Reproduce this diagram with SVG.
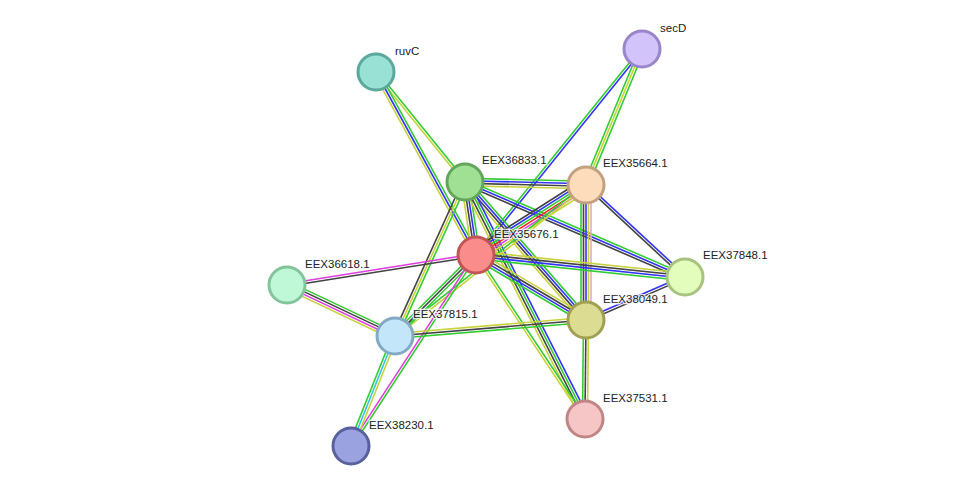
<svg xmlns="http://www.w3.org/2000/svg" width="976" height="492" viewBox="0 0 976 492">
<style>
line{stroke-width:1.6;fill:none}
.g{stroke:#33cc33}.b{stroke:#3333ff}.k{stroke:#444}.y{stroke:#c8d23c}.m{stroke:#e040e0}.r{stroke:#ff2020}.c{stroke:#33c6e0}.p{stroke:#e8a8b8}
circle{stroke-width:3}
text{font-family:"Liberation Sans",Arial,sans-serif;font-size:11.5px;fill:#222;paint-order:stroke;stroke:#fff;stroke-width:2.5px;stroke-opacity:0.8}
</style>
<rect width="976" height="492" fill="#fff"/>
<g id="edges">
<g transform="translate(376 72) rotate(51)"><line x2="141.5" y1="-1.25" y2="-1.25" class="g"/><line x2="141.5" y1="1.25" y2="1.25" class="y"/></g>
<g transform="translate(376 72) rotate(61.3)"><line x2="208.5" y1="-2.5" y2="-2.5" class="g"/><line x2="208.5" class="b"/><line x2="208.5" y1="2.5" y2="2.5" class="y"/></g>
<g transform="translate(642 49) rotate(128.9)"><line x2="264.6" y1="-1.25" y2="-1.25" class="b"/><line x2="264.6" y1="1.25" y2="1.25" class="g"/></g>
<g transform="translate(642 49) rotate(112.4)"><line x2="147" y1="-2.5" y2="-2.5" class="g"/><line x2="147" class="y"/><line x2="147" y1="2.5" y2="2.5" class="g"/></g>
<g transform="translate(465 182) rotate(1.4)"><line x2="121" y1="-3.75" y2="-3.75" class="g"/><line x2="121" y1="-1.25" y2="-1.25" class="b"/><line x2="121" y1="1.25" y2="1.25" class="k"/><line x2="121" y1="3.75" y2="3.75" class="y"/></g>
<g transform="translate(465 182) rotate(81.4)"><line x2="73.8" y1="-3.75" y2="-3.75" class="g"/><line x2="73.8" y1="-1.25" y2="-1.25" class="b"/><line x2="73.8" y1="1.25" y2="1.25" class="k"/><line x2="73.8" y1="3.75" y2="3.75" class="y"/></g>
<g transform="translate(465 182) rotate(23.4)"><line x2="239.6" y1="-2.5" y2="-2.5" class="g"/><line x2="239.6" class="b"/><line x2="239.6" y1="2.5" y2="2.5" class="k"/></g>
<g transform="translate(465 182) rotate(48.8)"><line x2="183.5" y1="-3.75" y2="-3.75" class="g"/><line x2="183.5" y1="-1.25" y2="-1.25" class="b"/><line x2="183.5" y1="1.25" y2="1.25" class="k"/><line x2="183.5" y1="3.75" y2="3.75" class="y"/></g>
<g transform="translate(465 182) rotate(63.1)"><line x2="265.6" y1="-3.75" y2="-3.75" class="b"/><line x2="265.6" y1="-1.25" y2="-1.25" class="g"/><line x2="265.6" y1="1.25" y2="1.25" class="k"/><line x2="265.6" y1="3.75" y2="3.75" class="y"/></g>
<g transform="translate(465 182) rotate(114.4)"><line x2="169.2" y1="-2.5" y2="-2.5" class="g"/><line x2="169.2" class="y"/><line x2="169.2" y1="2.5" y2="2.5" class="k"/></g>
<g transform="translate(586 185) rotate(147.5)"><line x2="130.4" y1="-6.25" y2="-6.25" class="y"/><line x2="130.4" y1="-3.75" y2="-3.75" class="m"/><line x2="130.4" y1="-1.25" y2="-1.25" class="r"/><line x2="130.4" y1="1.25" y2="1.25" class="g"/><line x2="130.4" y1="3.75" y2="3.75" class="b"/><line x2="130.4" y1="6.25" y2="6.25" class="k"/></g>
<g transform="translate(586 185) rotate(42.9)"><line x2="135.1" y1="-1.25" y2="-1.25" class="b"/><line x2="135.1" y1="1.25" y2="1.25" class="k"/></g>
<g transform="translate(586 185) rotate(90)"><line x2="135" y1="-5" y2="-5" class="p"/><line x2="135" y1="-2.5" y2="-2.5" class="y"/><line x2="135" class="b"/><line x2="135" y1="2.5" y2="2.5" class="k"/><line x2="135" y1="5" y2="5" class="g"/></g>
<g transform="translate(586 185) rotate(141.7)"><line x2="243.5" y1="-1.25" y2="-1.25" class="y"/><line x2="243.5" y1="1.25" y2="1.25" class="g"/></g>
<g transform="translate(476 255) rotate(6)"><line x2="210.2" y1="-3.75" y2="-3.75" class="y"/><line x2="210.2" y1="-1.25" y2="-1.25" class="k"/><line x2="210.2" y1="1.25" y2="1.25" class="b"/><line x2="210.2" y1="3.75" y2="3.75" class="g"/></g>
<g transform="translate(476 255) rotate(30.6)"><line x2="127.8" y1="-3.75" y2="-3.75" class="y"/><line x2="127.8" y1="-1.25" y2="-1.25" class="k"/><line x2="127.8" y1="1.25" y2="1.25" class="b"/><line x2="127.8" y1="3.75" y2="3.75" class="g"/></g>
<g transform="translate(476 255) rotate(56.4)"><line x2="196.9" y1="-1.25" y2="-1.25" class="g"/><line x2="196.9" y1="1.25" y2="1.25" class="y"/></g>
<g transform="translate(476 255) rotate(171)"><line x2="191.4" y1="-1.25" y2="-1.25" class="k"/><line x2="191.4" y1="1.25" y2="1.25" class="m"/></g>
<g transform="translate(476 255) rotate(135)"><line x2="114.6" y1="-2.5" y2="-2.5" class="g"/><line x2="114.6" class="k"/><line x2="114.6" y1="2.5" y2="2.5" class="g"/></g>
<g transform="translate(476 255) rotate(123.2)"><line x2="228.3" y1="-1.25" y2="-1.25" class="g"/><line x2="228.3" y1="1.25" y2="1.25" class="m"/></g>
<g transform="translate(287 285) rotate(25.3)"><line x2="119.4" y1="-3.75" y2="-3.75" class="g"/><line x2="119.4" y1="-1.25" y2="-1.25" class="k"/><line x2="119.4" y1="1.25" y2="1.25" class="m"/><line x2="119.4" y1="3.75" y2="3.75" class="y"/></g>
<g transform="translate(395 336) rotate(-4.8)"><line x2="191.7" y1="-2.5" y2="-2.5" class="y"/><line x2="191.7" class="k"/><line x2="191.7" y1="2.5" y2="2.5" class="g"/></g>
<g transform="translate(395 336) rotate(111.8)"><line x2="118.5" y1="-2.5" y2="-2.5" class="y"/><line x2="118.5" class="c"/><line x2="118.5" y1="2.5" y2="2.5" class="g"/></g>
<g transform="translate(586 320) rotate(-23.5)"><line x2="107.9" y1="-1.25" y2="-1.25" class="b"/><line x2="107.9" y1="1.25" y2="1.25" class="k"/></g>
<g transform="translate(586 320) rotate(90.6)"><line x2="99" y1="-2.5" y2="-2.5" class="y"/><line x2="99" class="k"/><line x2="99" y1="2.5" y2="2.5" class="g"/></g>
</g>
<g id="ruvC"><circle cx="376" cy="72" r="18" fill="#99e0d5" stroke="#5aa79b"/><text x="395" y="55">ruvC</text></g>
<g id="secD"><circle cx="642" cy="49" r="18" fill="#d3c3fb" stroke="#9a85c9"/><text x="660" y="32">secD</text></g>
<g id="EEX36833.1"><circle cx="465" cy="182" r="18" fill="#a0e094" stroke="#63a65a"/><text x="482" y="164">EEX36833.1</text></g>
<g id="EEX35664.1"><circle cx="586" cy="185" r="18" fill="#fddcbc" stroke="#c3a07e"/><text x="603" y="167">EEX35664.1</text></g>
<g id="EEX35676.1"><circle cx="476" cy="255" r="18" fill="#fb8c8c" stroke="#c05555"/><text x="494" y="238">EEX35676.1</text></g>
<g id="EEX36618.1"><circle cx="287" cy="285" r="18" fill="#bff8d6" stroke="#84c49c"/><text x="305" y="268">EEX36618.1</text></g>
<g id="EEX37848.1"><circle cx="685" cy="277" r="18" fill="#e3fdbd" stroke="#a8c27f"/><text x="703" y="259">EEX37848.1</text></g>
<g id="EEX37815.1"><circle cx="395" cy="336" r="18" fill="#c4e6fb" stroke="#84a9c2"/><text x="413" y="318">EEX37815.1</text></g>
<g id="EEX38049.1"><circle cx="586" cy="320" r="18" fill="#dcdc93" stroke="#a0a055"/><text x="603" y="303">EEX38049.1</text></g>
<g id="EEX38230.1"><circle cx="351" cy="446" r="18" fill="#9aa3e0" stroke="#58609e"/><text x="369" y="429">EEX38230.1</text></g>
<g id="EEX37531.1"><circle cx="585" cy="419" r="18" fill="#f6c6c6" stroke="#c08686"/><text x="603" y="402">EEX37531.1</text></g>
</svg>
